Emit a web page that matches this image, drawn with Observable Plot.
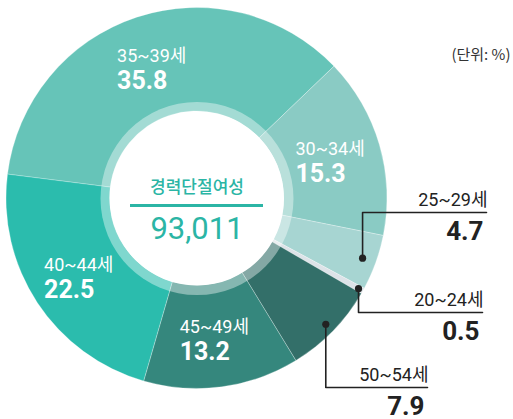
<!DOCTYPE html>
<html>
<head>
<meta charset="utf-8">
<script src="https://cdn.jsdelivr.net/npm/d3@7"></script>
<script src="https://cdn.jsdelivr.net/npm/@observablehq/plot@0.6"></script>
<style>
  html, body { margin: 0; padding: 0; background: #ffffff; }
  #chart svg { display: block; }
</style>
</head>
<body>
<div id="chart"></div>
<script>
// ---- data ----
const ageGroups   = ["35~39세", "30~34세", "25~29세", "20~24세", "50~54세", "45~49세", "40~44세"];
const shares      = [35.8, 15.3, 4.7, 0.5, 7.9, 13.2, 22.5];
const sliceColors = ["#66c4b8", "#8acbc4", "#a7d5d2", "#dde3e8", "#336f69", "#35877d", "#2bbcad"];
const outsideGroups = ["25~29세", "20~24세", "50~54세"];
const totalLabel = "경력단절여성";
const totalValue = "93,011";
const unitLabel  = "(단위: %)";

// ---- layout ----
const W = 513, H = 419;
const CX = 196.5, CY = 198, R = 190.5, RING = 96.5, HOLE = 87;
const START = 277.2 * Math.PI / 180;
const LABEL_R = 140;
const KR = "'Noto Sans CJK KR', sans-serif";
const NUM = "Roboto, 'Noto Sans CJK KR', sans-serif";
// callout elbows: radius of the dot, y of the leader line, and line end x
const calloutLayout = {
  "25~29세": {r: 176, elbowY: 212, endX: 486},
  "20~24세": {r: 185, elbowY: 312, endX: 482},
  "50~54세": {r: 180, elbowY: 387, endX: 427}
};

const rows = ageGroups.map((g, i) => ({group: g, value: shares[i], color: sliceColors[i]}));
const pie = d3.pie().sort(null).value(d => d.value).startAngle(START).endAngle(START + 2 * Math.PI);
const arcs = pie(rows);
const mid = a => (a.startAngle + a.endAngle) / 2;
const polar = (ang, r) => [CX + r * Math.sin(ang), CY - r * Math.cos(ang)];

// inside labels
const inside = arcs.filter(a => !outsideGroups.includes(a.data.group)).map(a => {
  const [x, y] = polar(mid(a), LABEL_R);
  return {group: a.data.group, value: a.data.value.toFixed(1), x: x - 36, y};
});

// callouts
const callouts = arcs.filter(a => outsideGroups.includes(a.data.group)).map(a => {
  const L = calloutLayout[a.data.group];
  const [x, y] = polar(mid(a), L.r);
  return {group: a.data.group, value: a.data.value.toFixed(1), x, y, elbowY: L.elbowY, endX: L.endX};
});
const leaderPts = callouts.flatMap(c => [
  {key: c.group, x: c.x, y: c.y},
  {key: c.group, x: c.x, y: c.elbowY},
  {key: c.group, x: c.endX, y: c.elbowY}
]);

function slicesMark(index, scales) {
  const sx = scales && scales.x ? scales.x : (v => v);
  const sy = scales && scales.y ? scales.y : (v => v);
  const k = sx(1) - sx(0);
  const arcGen = d3.arc().innerRadius(HOLE * k).outerRadius(R * k);
  const g = d3.create("svg:g").attr("transform", `translate(${sx(CX)},${sy(CY)})`);
  g.selectAll("path").data(arcs).join("path")
    .attr("d", arcGen)
    .attr("fill", d => d.data.color)
    .attr("stroke", "#ffffff")
    .attr("stroke-opacity", 0.35)
    .attr("stroke-width", 0.8);
  return g.node();
}

const center = [{x: CX, y: CY}];

const chart = Plot.plot({
  width: W,
  height: H,
  margin: 0,
  x: {type: "linear", domain: [0, W], range: [0, W], axis: null},
  y: {type: "linear", domain: [0, H], range: [0, H], axis: null},
  style: {background: "#ffffff", fontFamily: NUM},
  marks: [
    slicesMark,
    Plot.dot(center, {x: "x", y: "y", r: RING, fill: "#ffffff", fillOpacity: 0.4}),
    Plot.dot(center, {x: "x", y: "y", r: HOLE, fill: "#ffffff"}),
    // center text
    Plot.text(center, {x: "x", y: d => d.y - 6, text: () => totalLabel, textAnchor: "middle", lineAnchor: "bottom",
      fontFamily: KR, fontSize: 17, fontWeight: 500, fill: "#2bb5a5"}),
    Plot.ruleY(center, {y: d => d.y + 7, x1: d => d.x - 66.5, x2: d => d.x + 66.5, stroke: "#2bb5a5", strokeWidth: 3}),
    Plot.text(center, {x: "x", y: d => d.y + 40, text: () => totalValue, textAnchor: "middle", lineAnchor: "bottom",
      fontFamily: NUM, fontSize: 31, fill: "#2bb5a5"}),
    // inside labels
    Plot.text(inside, {x: "x", y: d => d.y - 4, text: "group", textAnchor: "start", lineAnchor: "bottom",
      fontFamily: NUM, fontSize: 18, fill: "#ffffff"}),
    Plot.text(inside, {x: "x", y: d => d.y + 23, text: "value", textAnchor: "start", lineAnchor: "bottom",
      fontFamily: NUM, fontSize: 25, fontWeight: 700, fill: "#ffffff"}),
    // callouts
    Plot.line(leaderPts, {x: "x", y: "y", z: "key", stroke: "#222222", strokeWidth: 1.6, curve: "linear"}),
    Plot.dot(callouts, {x: "x", y: "y", r: 3.6, fill: "#222222"}),
    Plot.text(callouts, {x: d => d.endX + 1, y: d => d.elbowY - 7, text: "group", textAnchor: "end", lineAnchor: "bottom",
      fontFamily: NUM, fontSize: 18, fill: "#222222"}),
    Plot.text(callouts, {x: d => d.endX - 3, y: d => d.elbowY + 27, text: "value", textAnchor: "end", lineAnchor: "bottom",
      fontFamily: NUM, fontSize: 26, fontWeight: 700, fill: "#222222"}),
    // unit
    Plot.text([unitLabel], {x: () => W - 3, y: () => 59, text: d => d, textAnchor: "end", lineAnchor: "bottom",
      fontFamily: KR, fontSize: 15, fill: "#333333"})
  ]
});
document.getElementById("chart").appendChild(chart);
</script>
</body>
</html>
